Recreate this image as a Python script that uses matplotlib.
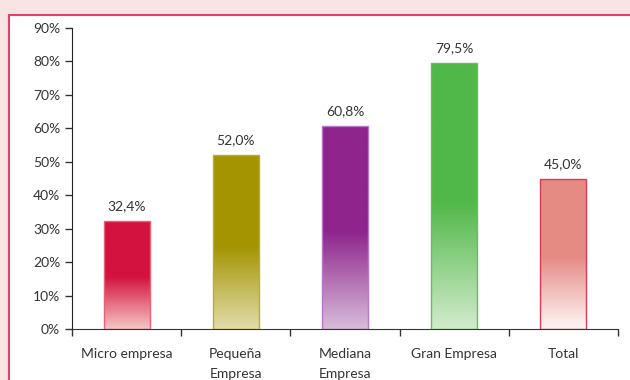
import numpy as np
import matplotlib.pyplot as plt
from matplotlib.colors import LinearSegmentedColormap
from matplotlib.patches import Rectangle

categories = ["Micro empresa", "Pequeña\nEmpresa", "Mediana\nEmpresa", "Gran Empresa", "Total"]
values = [32.4, 52.0, 60.8, 79.5, 45.0]
labels = ["32,4%", "52,0%", "60,8%", "79,5%", "45,0%"]
y_ticks = [0, 10, 20, 30, 40, 50, 60, 70, 80, 90]

# (top colour, bottom colour, edge colour) per bar
bar_colors = [
    ("#d4123f", "#f5c6c4", "#e8607c"),
    ("#a39400", "#e2dcaa", "#bcae2a"),
    ("#8e248c", "#d8bcda", "#b478c4"),
    ("#50b848", "#d2ebcc", "#62c25a"),
    ("#e68a84", "#fdf7f6", "#d83a5a"),
]

plt.rcParams['font.family'] = ['Lato', 'DejaVu Sans']

fig = plt.figure(figsize=(6.3, 3.8), dpi=100)
fig.patch.set_facecolor("#f8e4e0")

# white panel with pink border
panel = Rectangle((9 / 630, -0.1), 1.1, 1.1 - 15 / 380,
                  transform=fig.transFigure, facecolor="white",
                  edgecolor="#e0406a", linewidth=1.5, zorder=-1)
fig.patches.append(panel)

ax = fig.add_axes([72 / 630, 1 - 329 / 380, (618 - 72) / 630, (329 - 28) / 380])
ax.set_facecolor("none")

x = np.arange(len(categories))
width = 0.42

for i, (v, (top, bottom, edge)) in enumerate(zip(values, bar_colors)):
    cmap = LinearSegmentedColormap.from_list("bar%d" % i, [(0, bottom), (0.48, top), (1, top)])
    grad = np.linspace(0, 1, 256).reshape(-1, 1)
    img = ax.imshow(grad, cmap=cmap, origin="lower", aspect="auto",
                    extent=[x[i] - width / 2, x[i] + width / 2, 0, v], zorder=2)
    rect = Rectangle((x[i] - width / 2, 0), width, v, facecolor="none",
                     edgecolor=edge, linewidth=1.0, zorder=3)
    ax.add_patch(rect)
    img.set_clip_path(rect)
    ax.text(x[i], v + 2.6, labels[i], ha="center", va="bottom", fontsize=10, color="#333333")

ax.set_xlim(-0.5, len(categories) - 0.5)
ax.set_ylim(0, 90)
ax.set_yticks(y_ticks)
ax.set_yticklabels(["%d%%" % t for t in y_ticks])
ax.set_xticks(x)
ax.set_xticklabels(categories)
ax.set_xticks(np.arange(len(categories) + 1) - 0.5, minor=True)
ax.tick_params(axis="x", which="major", length=0, pad=14, labelsize=10, labelcolor="#333333")
ax.tick_params(axis="x", which="minor", length=5, width=1, color="#333333")
ax.tick_params(axis="y", length=5, width=1, labelsize=10, labelcolor="#333333", color="#333333")
for lbl in ax.get_xticklabels():
    lbl.set_verticalalignment("top")
    lbl.set_linespacing(1.75)

ax.spines["top"].set_visible(False)
ax.spines["right"].set_visible(False)
ax.spines["left"].set_color("#222222")
ax.spines["bottom"].set_color("#333333")

plt.savefig("out.png", dpi=100, facecolor=fig.get_facecolor())
